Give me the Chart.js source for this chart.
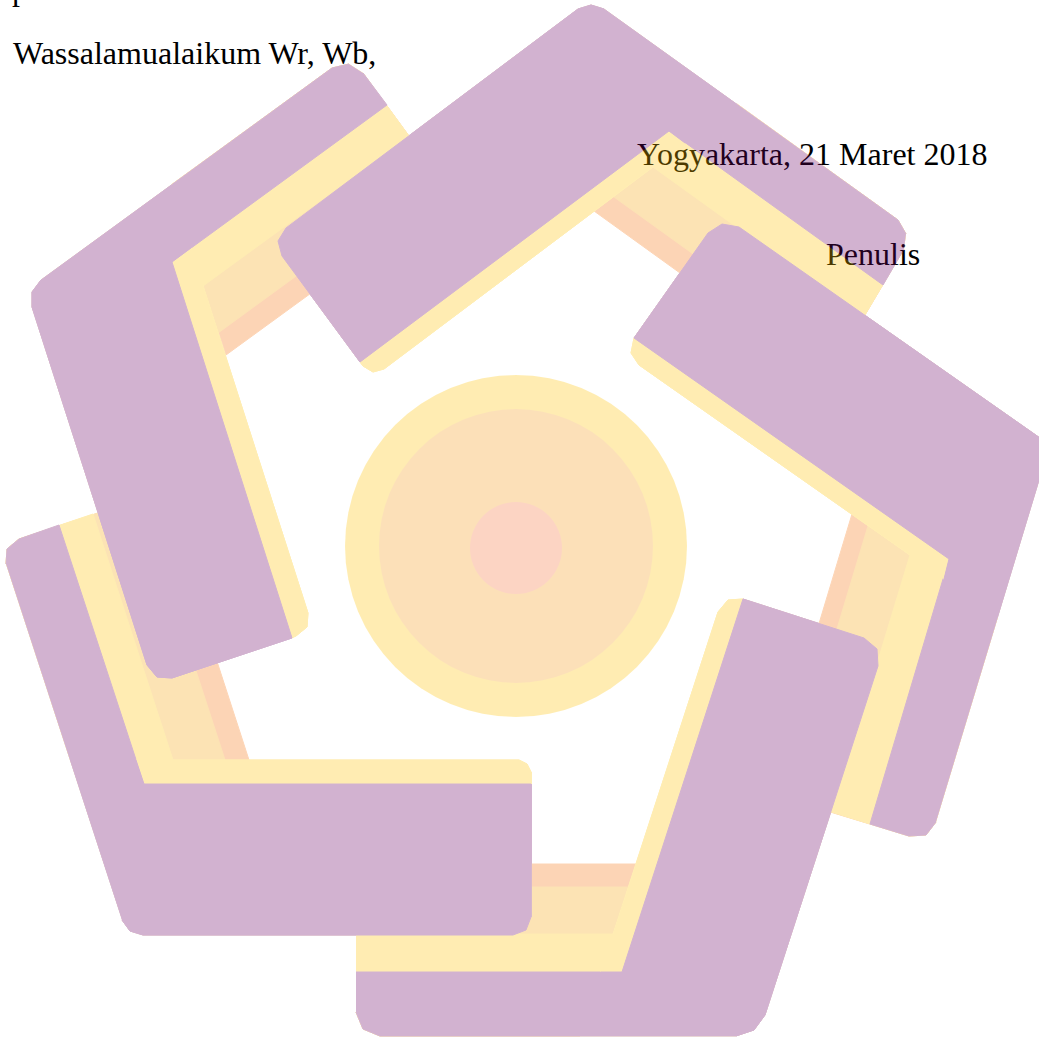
<!DOCTYPE html>
<html>
<head>
<meta charset="utf-8">
<script src="https://cdn.jsdelivr.net/npm/chart.js@4"></script>
<style>
html, body { margin: 0; padding: 0; background: #fff; }
#page { position: relative; width: 1039px; height: 1037px; overflow: hidden; }
.txt { position: absolute; font-family: "Liberation Serif", "Times New Roman", serif; font-size: 32px; line-height: 32px; color: #000; white-space: nowrap; }
#logo { position: absolute; left: 0; top: 0; opacity: 0.3; }
</style>
</head>
<body>
<div id="page">
  <div class="txt" style="left:12px;top:-27px">p</div>
  <div class="txt" style="left:13px;top:37px">Wassalamualaikum Wr, Wb,</div>
  <div class="txt" style="left:637px;top:138px">Yogyakarta, 21 Maret 2018</div>
  <div class="txt" style="left:826px;top:238px">Penulis</div>
  <canvas id="logo" width="1039" height="1037"></canvas>
</div>
<script>
// ========= Data (pixel coords) =========
// centre circles: x, y, radius
const circleX = [516, 516, 516];
const circleY = [546, 546, 548];
const circleR = [171, 137, 46];

// piece A: bottom-left corner
const aPeach  = [[6,564],[7,549],[19,539],[162,492],[249,760],[70,760]];
const aLight  = [[6,564],[7,549],[19,539],[140,499],[225,760],[70,760]];
const aYellow = [[6,564],[7,549],[19,539],[93,514],[173,760],[519,760],[527,764],[531,772],[531,917],[526,930],[513,935],[143,935],[130,931],[122,920]];
const aPurple = [[6,564],[7,549],[19,539],[59,525],[144,784],[531,784],[531,917],[526,930],[513,935],[143,935],[130,931],[122,920]];
const aTopYellow = [[136,760],[519,760],[527,764],[531,772],[531,784],[144,784]];
const aTopPurple = [[70,760],[136,760],[144,784],[531,784],[531,917],[526,930],[513,935],[143,935],[130,931],[122,920]];

// piece B: bottom-right corner
const bPeach  = [[356,864],[636,864],[580,1036],[380,1036],[363,1029],[356,1012]];
const bLight  = [[356,887],[628,887],[580,1036],[380,1036],[363,1029],[356,1012]];
const bYellow = [[356,934],[613,934],[718,612],[728,600],[743,599],[864,638],[877,649],[878,666],[765,1015],[754,1030],[736,1036],[380,1036],[363,1029],[356,1012]];
const bPurple = [[356,972],[622,972],[743,599],[864,638],[877,649],[878,666],[765,1015],[754,1030],[736,1036],[380,1036],[363,1029],[356,1012]];
const bTopYellow = [[601,972],[718,612],[728,600],[743,599],[622,972]];
const bTopPurple = [[580,1036],[601,972],[622,972],[743,599],[864,638],[877,649],[878,666],[765,1015],[754,1030],[736,1036]];

// piece C: right corner
const cPeach  = [[936,822],[926,835],[909,836],[768,793],[852,514],[998,617]];
const cLight  = [[936,822],[926,835],[909,836],[786,798],[868,526],[998,617]];
const cYellow = [[936,822],[926,835],[909,836],[832,812],[910,555],[639,365],[631,353],[634,338],[708,233],[722,224],[739,227],[1050,445]];
const cPurple = [[936,822],[926,835],[909,836],[870,824],[949,559],[634,338],[708,233],[722,224],[739,227],[1050,445]];
const cTopYellow = [[944,579],[639,365],[631,353],[634,338],[949,559]];
const cTopPurple = [[998,617],[944,579],[949,559],[634,338],[708,233],[722,224],[739,227],[1050,445]];

// piece D: top corner
const dPeach  = [[904,249],[827,379],[594,211],[737,104],[898,220],[906,234]];
const dLight  = [[904,249],[839,359],[614,197],[737,104],[898,220],[906,234]];
const dYellow = [[904,249],[863,318],[653,167],[384,369],[373,372],[363,366],[282,256],[278,241],[286,228],[578,9],[591,5],[604,9],[898,220],[906,234]];
const dPurple = [[904,249],[883,285],[669,131],[360,362],[282,256],[278,241],[286,228],[578,9],[591,5],[604,9],[898,220],[906,234]];
const dTopYellow = [[685,143],[384,369],[373,372],[363,366],[360,362],[669,131]];
const dTopPurple = [[737,104],[685,143],[669,131],[360,362],[282,256],[278,241],[286,228],[578,9],[591,5],[604,9]];

// piece E: left corner
const ePeach  = [[363,73],[450,192],[226,355],[171,185],[332,68],[349,64]];
const eLight  = [[363,73],[436,174],[218,333],[171,185],[332,68],[349,64]];
const eYellow = [[363,73],[409,136],[203,286],[308,613],[307,627],[296,636],[172,678],[157,677],[147,665],[32,307],[32,292],[41,280],[332,68],[349,64]];
const ePurple = [[363,73],[387,105],[172,262],[292,638],[172,678],[157,677],[147,665],[32,307],[32,292],[41,280],[332,68],[349,64]];
const eTopYellow = [[191,248],[308,613],[307,627],[296,636],[292,638],[172,262]];
const eTopPurple = [[171,185],[191,248],[172,262],[292,638],[172,678],[157,677],[147,665],[32,307],[32,292],[41,280]];

// ========= Colours (canvas is shown at 30% opacity) =========
const PURPLE = "rgb(108,2,102)";
const YELLOW = "rgb(255,195,2)";
const LIGHT  = "rgb(248,162,8)";
const PEACH  = "rgb(248,115,12)";
const MID    = "rgb(248,155,22)";
const INNER  = "rgb(248,115,58)";

// bottom to top; leg1 parts are drawn again last so the pinwheel overlaps
const shapes = [
  [aPeach, PEACH], [aLight, LIGHT], [aYellow, YELLOW], [aPurple, PURPLE],
  [bPeach, PEACH], [bLight, LIGHT], [bYellow, YELLOW], [bPurple, PURPLE],
  [cPeach, PEACH], [cLight, LIGHT], [cYellow, YELLOW], [cPurple, PURPLE],
  [dPeach, PEACH], [dLight, LIGHT], [dYellow, YELLOW], [dPurple, PURPLE],
  [ePeach, PEACH], [eLight, LIGHT], [eYellow, YELLOW], [ePurple, PURPLE],
  [aTopYellow, YELLOW], [aTopPurple, PURPLE],
  [bTopYellow, YELLOW], [bTopPurple, PURPLE],
  [cTopYellow, YELLOW], [cTopPurple, PURPLE],
  [dTopYellow, YELLOW], [dTopPurple, PURPLE],
  [eTopYellow, YELLOW], [eTopPurple, PURPLE]
];

const datasets = shapes.map(([pts, col], i) => ({
  type: "scatter",
  data: pts.map(([x, y]) => ({x, y})),
  showLine: true,
  fill: "shape",
  backgroundColor: col,
  borderColor: col,
  borderWidth: 1,
  borderJoinStyle: "round",
  pointRadius: 0,
  pointHoverRadius: 0,
  order: 100 - i
}));

datasets.push({
  type: "bubble",
  data: circleX.map((x, i) => ({x, y: circleY[i], r: circleR[i]})),
  backgroundColor: [YELLOW, MID, INNER],
  borderWidth: 0,
  order: 200
});

new Chart(document.getElementById("logo"), {
  type: "scatter",
  data: {datasets},
  options: {
    responsive: false,
    devicePixelRatio: 1,
    animation: false,
    events: [],
    layout: {padding: 0, autoPadding: false},
    plugins: {legend: {display: false}, tooltip: {enabled: false}},
    scales: {
      x: {type: "linear", min: 0, max: 1039, display: false},
      y: {type: "linear", min: 0, max: 1037, reverse: true, display: false}
    }
  }
});
</script>
</body>
</html>
